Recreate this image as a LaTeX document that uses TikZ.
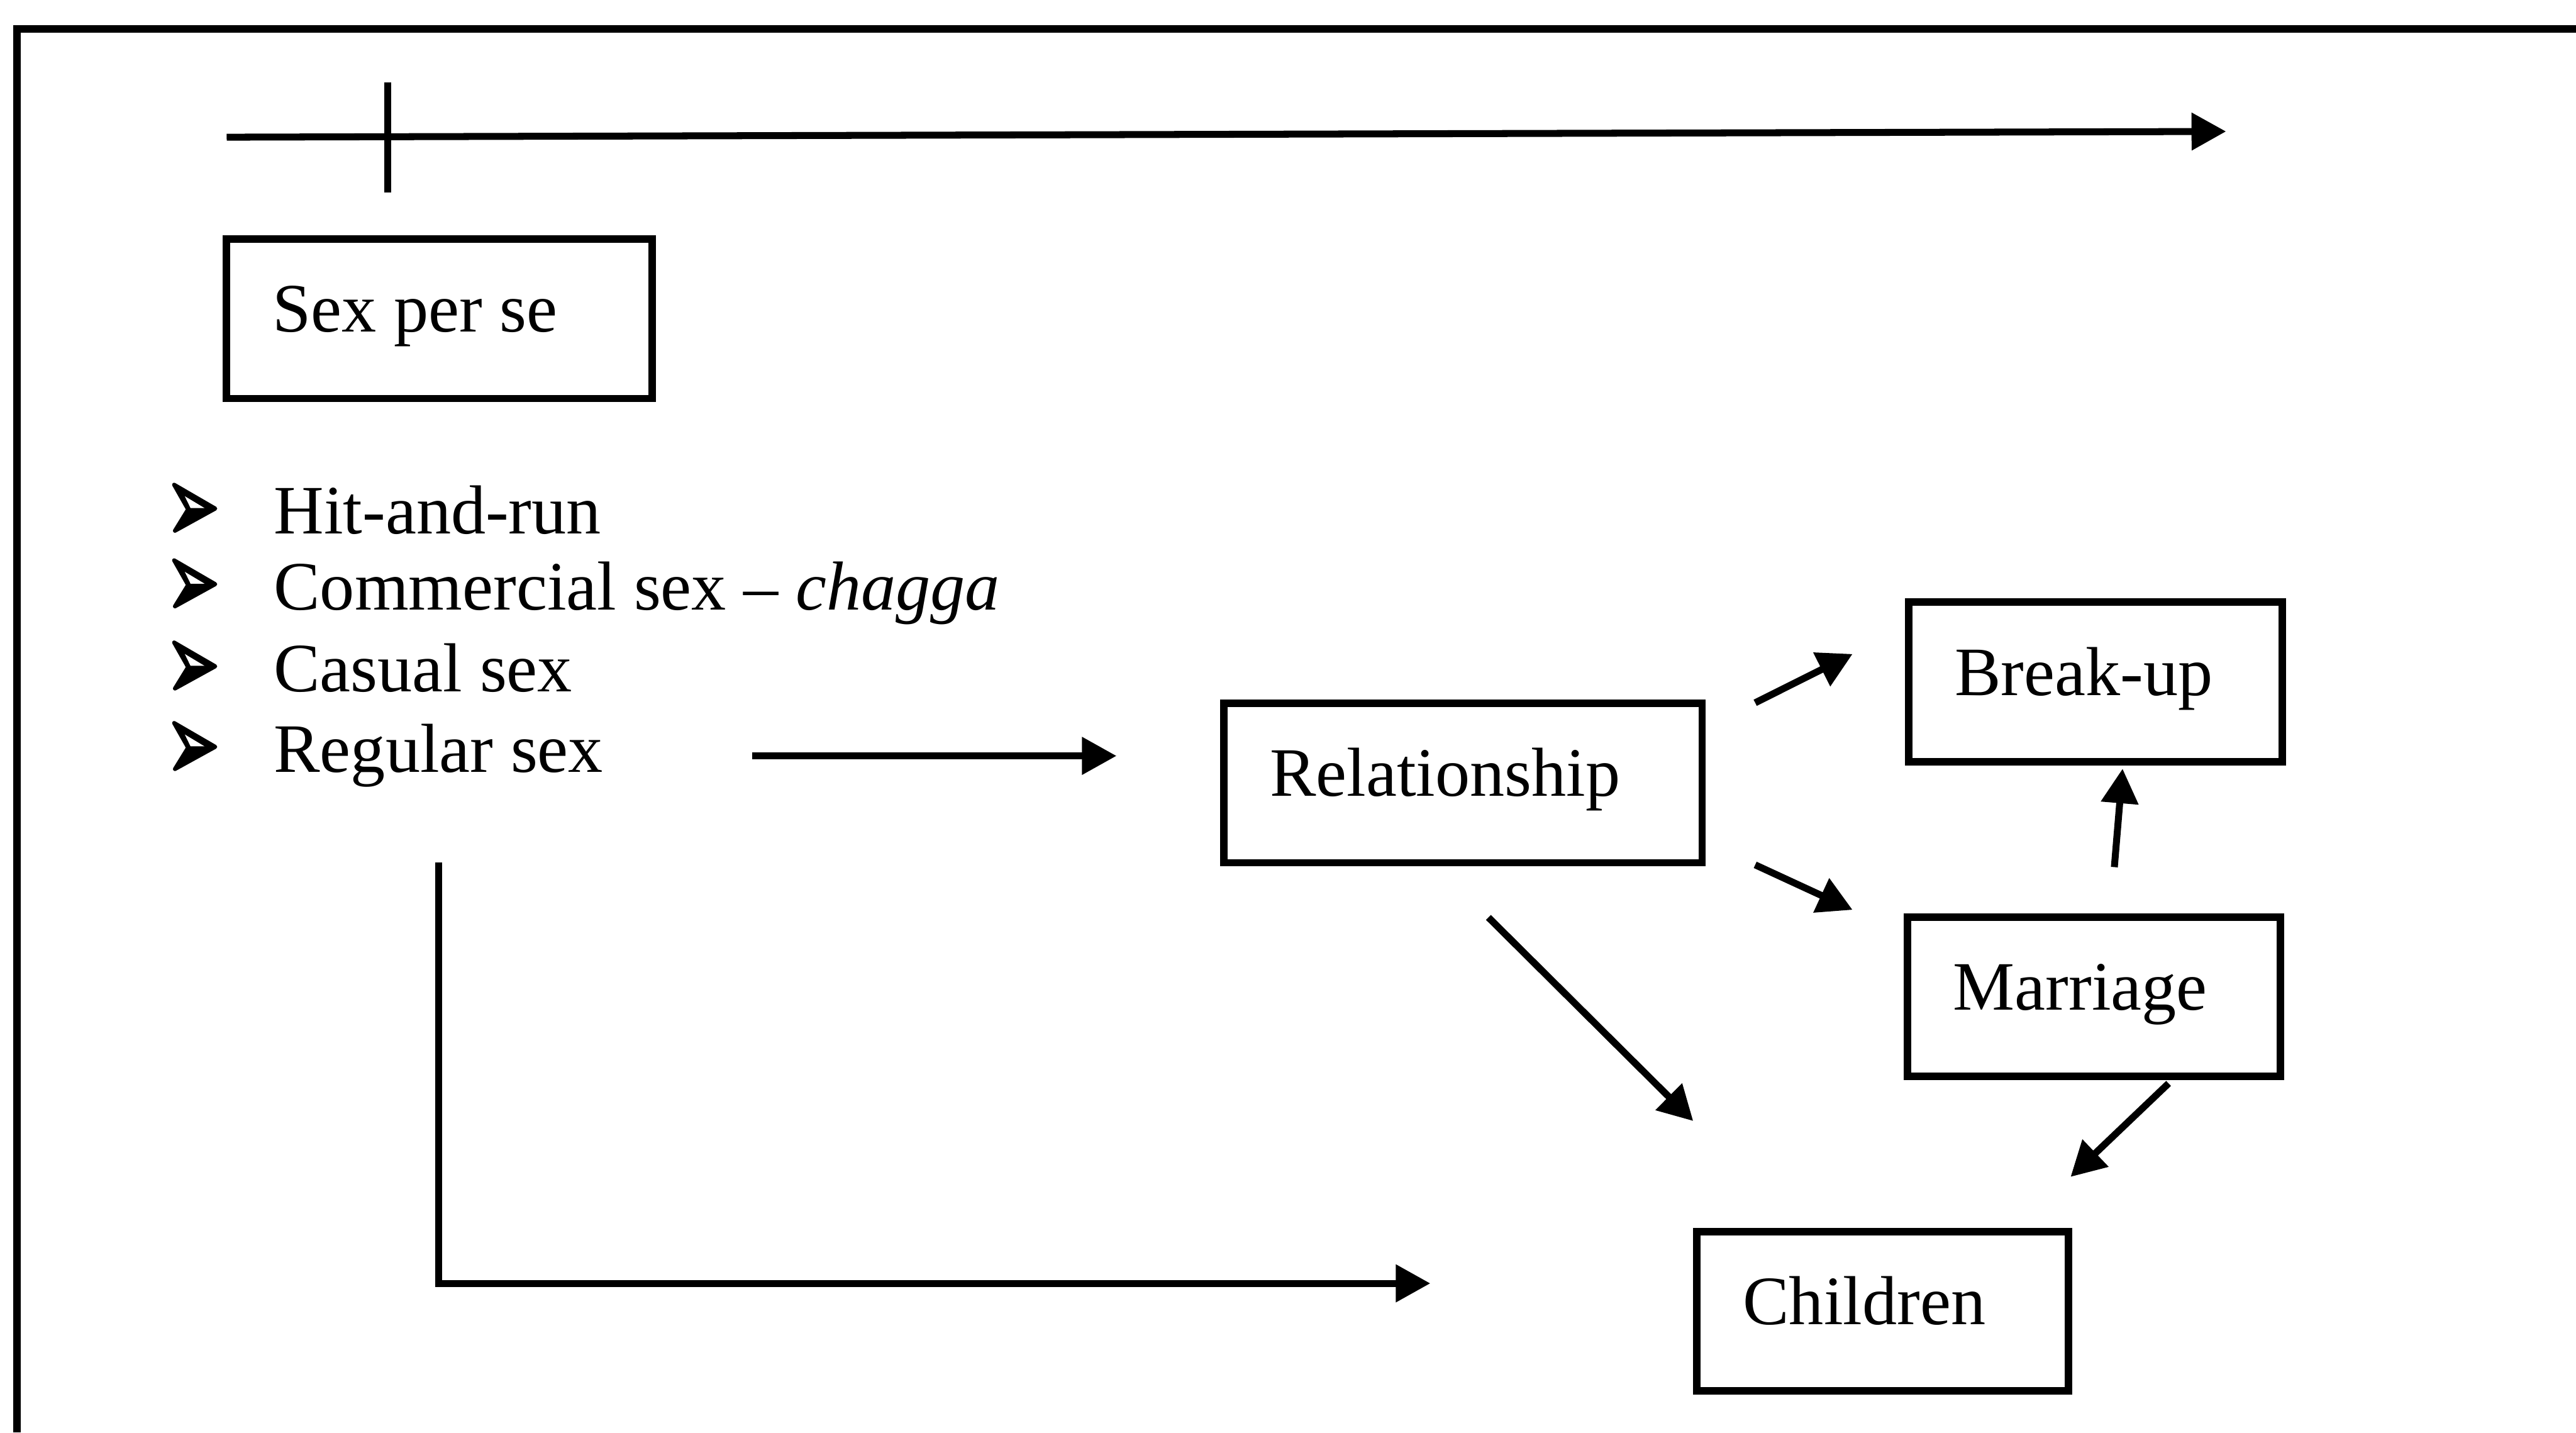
\documentclass[tikz,border=0pt]{standalone}
\usepackage{fontspec}
\setmainfont{Liberation Serif}
\usetikzlibrary{arrows.meta,calc}
\begin{document}
\begin{tikzpicture}[x=0.01cm,y=-0.01cm,
  plain/.style={line width=1.2pt},
  arr/.style={line width=1.2pt,-{Triangle[length=0.21cm,width=0.22cm]}},
  box/.style={draw,line width=1.3pt,inner xsep=0.28cm,inner ysep=0pt,
    minimum height=0.97cm,text height=0.68em,text depth=0.22em,align=flush left,
    font=\fontsize{12}{14}\selectfont},
  item/.style={anchor=base west,inner sep=0pt,font=\fontsize{12}{14}\selectfont},
  % three-dimensional arrowhead bullet, origin on the text baseline
  arrowbullet/.pic={
    \filldraw[line width=0.7pt,line join=round]
      (1,-30) -- (26,-15.5) -- (1.5,-2) -- (9.5,-15) -- cycle;
    \fill[white] (7.5,-23) -- (19.5,-15.8) -- (11,-15.8) -- cycle;
  }]
\useasboundingbox (0,0) rectangle (1568,871.7);

% outer frame (left and top edges)
\draw[line width=1.3pt] (10.5,871.7) -- (10.5,17.5) -- (1568,17.5);

% time axis with a tick mark
\coordinate (t0) at (138,83.5);
\coordinate (t1) at (1355,80);
\coordinate (k0) at (236,50);
\coordinate (k1) at (236,117);
\draw[arr] (t0) -- (t1);
\draw[plain] (k0) -- (k1);

% boxes
\node[box,text width=2.03cm] (sps) at (267.5,194) {Sex per se};
\node[box,text width=2.35cm] (rel) at (890.5,476.5) {Relationship};
\node[box,text width=1.71cm] (brk) at (1275.5,415) {Break-up};
\node[box,text width=1.71cm] (mar) at (1274.5,606.5) {Marriage};
\node[box,text width=1.70cm] (chi) at (1146,798) {Children};

% list of kinds of sex
\node[item] (i1) at (166,325) {Hit-and-run};
\node[item] (i2) at (166,371) {Commercial sex – \textit{chagga}};
\node[item] (i3) at (166,421) {Casual sex};
\node[item] (i4) at (166,470) {Regular sex};
\foreach \i in {i1,i2,i3,i4}
  \pic at ($(\i.base west)+(-61,0)$) {arrowbullet};

% connectors
\draw[arr] ($(i4.base east)+(90,-10)$) -- ($(rel.west)+(-63,-16.5)$);
\draw[arr] ($(rel.north east)+(30,2)$) -- ($(brk.west)+(-32,-17)$);
\draw[arr] ($(rel.south east)+(30,-1)$) -- ($(mar.north west)+(-31,-2)$);
\draw[arr] ($(mar.north)+(12.5,-28)$) -- ($(brk.south)+(16.5,2)$);
\draw[arr] ($(rel.south)+(15.5,31)$) -- ($(chi.north west)+(0,-65)$);
\draw[arr] ($(mar.south)+(45.5,2)$) -- ($(chi.north east)+(-1,-31)$);
\draw[arr] ($(i4.base west)+(101,55)$) |- ($(chi.west)+(-160,-17)$);
\end{tikzpicture}
\end{document}
